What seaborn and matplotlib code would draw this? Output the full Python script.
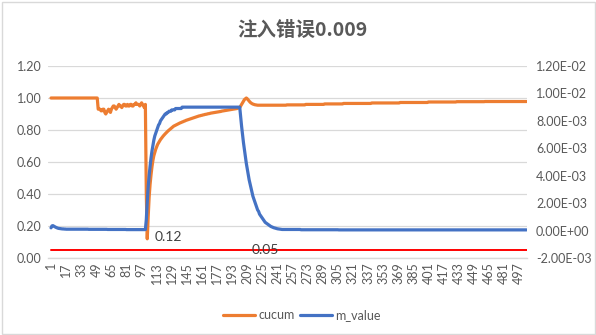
import matplotlib
matplotlib.use("Agg")
import matplotlib.pyplot as plt
import numpy as np
import pandas as pd
import seaborn as sns
from matplotlib.ticker import FuncFormatter
from matplotlib.lines import Line2D
from matplotlib.patches import Rectangle

# ---- data ----
title_text = "注入错误0.009"
series_names = ["cucum", "m_value"]

cucum = (
    [1.00] * 50
    + [0.93, 0.93, 0.93, 0.92, 0.92, 0.93, 0.93, 0.91, 0.90, 0.91,
       0.92, 0.93, 0.92, 0.91, 0.93, 0.94, 0.95, 0.95, 0.94, 0.93,
       0.94, 0.95, 0.96, 0.95, 0.95, 0.94, 0.95, 0.96, 0.96, 0.95,
       0.95, 0.96, 0.95, 0.95, 0.96, 0.96, 0.95, 0.95, 0.96, 0.96,
       0.97, 0.96, 0.96, 0.96, 0.95, 0.96, 0.97, 0.96, 0.95, 0.94,
       0.96]
    + [0.40, 0.12, 0.26, 0.38, 0.46, 0.52, 0.57, 0.61, 0.64, 0.66,
       0.68, 0.695, 0.71, 0.72, 0.73, 0.74, 0.748, 0.756, 0.763, 0.770,
       0.776, 0.782, 0.788, 0.794, 0.799, 0.804, 0.809, 0.814, 0.819]
    + [0.824, 0.827, 0.830, 0.833, 0.836, 0.839, 0.842, 0.845, 0.847, 0.850,
       0.852, 0.855, 0.857, 0.860, 0.862]
    + [0.864, 0.866, 0.868, 0.870, 0.872, 0.874, 0.876, 0.878, 0.880, 0.882,
       0.884, 0.886, 0.888, 0.889, 0.891, 0.892, 0.894]
    + [0.895, 0.897, 0.898, 0.899, 0.901, 0.902, 0.903, 0.905, 0.906, 0.907,
       0.908, 0.909, 0.910, 0.911, 0.912, 0.913, 0.914, 0.915, 0.916, 0.918,
       0.919]
    + [0.920, 0.921, 0.922, 0.923, 0.924, 0.925, 0.926, 0.927, 0.928, 0.929,
       0.930, 0.931, 0.932, 0.933, 0.934, 0.936, 0.938, 0.940]
    + [0.95, 0.96, 0.97, 0.98, 0.99, 0.995, 1.00, 0.995, 0.988, 0.980,
       0.974, 0.969, 0.965, 0.962, 0.960, 0.958, 0.957, 0.956, 0.955]
    + [0.955] * 30
    + [0.957] * 20
    + [0.960] * 20
    + [0.963] * 20
    + [0.966] * 30
    + [0.969] * 30
    + [0.972] * 30
    + [0.975] * 30
    + [0.977] * 30
    + [0.978] * 45
)

m_value = (
    [0.00020, 0.00034, 0.00036, 0.00032, 0.00028, 0.00024, 0.00021, 0.00018,
     0.00016, 0.00015, 0.00014, 0.00013, 0.00012, 0.00012, 0.00011, 0.00011,
     0.00010, 0.00010, 0.00010, 0.00010]
    + [0.00010] * 20
    + [0.00009] * 20
    + [0.00008] * 20
    + [0.00007] * 21
    + [0.0008, 0.0021, 0.0032, 0.0040, 0.0047, 0.0053, 0.0058, 0.0062, 0.0066,
       0.0069, 0.0071, 0.0073, 0.0075, 0.0077, 0.0078, 0.0080, 0.0081, 0.0082,
       0.0083, 0.0084, 0.0085, 0.0085, 0.0086, 0.0086, 0.0087, 0.0087, 0.0087,
       0.0088, 0.0088]
    + [0.0088, 0.0088, 0.0089, 0.0089, 0.0089, 0.0089, 0.0089, 0.0089, 0.0089,
       0.0090, 0.0090, 0.0090, 0.0090, 0.0090, 0.0090]
    + [0.0090] * 15
    + [0.0090] * 41
    + [0.0083, 0.0076, 0.0070, 0.0064, 0.0059, 0.0054, 0.0049, 0.0045, 0.0041,
       0.0037, 0.0034, 0.0031, 0.0028, 0.0025, 0.0023, 0.0021, 0.0019, 0.0017,
       0.0015, 0.0014, 0.0012, 0.0011, 0.0010, 0.0009, 0.0008, 0.0007, 0.0006,
       0.00055, 0.0005, 0.00045, 0.0004, 0.00035, 0.0003, 0.00027, 0.00024,
       0.00021, 0.00019, 0.00017, 0.00015, 0.00013, 0.00012, 0.00011, 0.00010,
       0.00009]
    + [0.00008] * 20
    + [0.00006] * 40
    + [0.00005] * 200
)

threshold = [0.05] * len(cucum)
index = list(range(1, len(cucum) + 1))
x_tick_labels = list(range(1, 498, 16))
left_ticks = [0.0, 0.2, 0.4, 0.6, 0.8, 1.0, 1.2]
right_ticks = [-0.002, 0.0, 0.002, 0.004, 0.006, 0.008, 0.010, 0.012]

# labelled points
min_label_idx = 103       # cucum minimum, 0.12
threshold_label_idx = 206

# ---- styling ----
ORANGE = "#ED7D31"
BLUE = "#4472C4"
RED = "#FF0000"
GRID = "#D9D9D9"
TICK_TXT = "#595959"
LABEL_TXT = "#404040"

sns.set_theme(style="white")
plt.rcParams["font.family"] = ["Lato", "Noto Sans CJK SC", "DejaVu Sans"]

df = pd.DataFrame({"idx": index, "cucum": cucum, "m_value": m_value,
                   "threshold": threshold})

W, H = 596, 335
fig = plt.figure(figsize=(W / 100, H / 100), dpi=100)
ax = fig.add_axes([48 / W, 77 / H, 479 / W, 192 / H])

sns.lineplot(data=df, x="idx", y="cucum", ax=ax, color=ORANGE, lw=2.3,
             legend=False, zorder=3)
sns.lineplot(data=df, x="idx", y="threshold", ax=ax, color=RED, lw=1.4,
             legend=False, zorder=2)

ax2 = ax.twinx()
sns.lineplot(data=df, x="idx", y="m_value", ax=ax2, color=BLUE, lw=2.3,
             legend=False, zorder=3)

# primary axis
ax.set_xlim(-2.2, 505.5)
ax.set_ylim(0, 1.2)
ax.set_yticks(left_ticks)
ax.yaxis.set_major_formatter(FuncFormatter(lambda v, p: f"{v:.2f}"))
ax.set_xticks(x_tick_labels)
ax.set_xticklabels([str(v) for v in x_tick_labels], rotation=90)
ax.grid(axis="y", color=GRID, lw=0.9)
ax.grid(axis="x", visible=False)
ax.set_axisbelow(True)
for side in ["top", "left", "right"]:
    ax.spines[side].set_visible(False)
ax.spines["bottom"].set_color(GRID)
ax.spines["bottom"].set_linewidth(1.0)
ax.tick_params(axis="y", length=0, pad=4.5, labelsize=9, labelcolor=TICK_TXT)
ax.tick_params(axis="x", length=0, pad=3, labelsize=9, labelcolor=TICK_TXT)
ax.set_xlabel("")
ax.set_ylabel("")

# secondary axis
ax2.set_ylim(-0.002, 0.012)
ax2.set_yticks(right_ticks)
ax2.yaxis.set_major_formatter(FuncFormatter(lambda v, p: f"{v:.2E}"))
ax2.grid(False)
for side in ax2.spines:
    ax2.spines[side].set_visible(False)
ax2.tick_params(axis="y", length=0, pad=6.5, labelsize=9, labelcolor=TICK_TXT)
ax2.set_ylabel("")

# data labels
ax.annotate(f"{cucum[min_label_idx - 1]:.2f}",
            xy=(min_label_idx, cucum[min_label_idx - 1]),
            xytext=(5.4, 1.5), textcoords="offset points",
            ha="left", va="center", fontsize=10, color=LABEL_TXT, zorder=5)
ax.annotate(f"{threshold[threshold_label_idx - 1]:.2f}",
            xy=(threshold_label_idx, threshold[threshold_label_idx - 1]),
            xytext=(5.4, 0), textcoords="offset points",
            ha="left", va="center", fontsize=10, color=LABEL_TXT, zorder=5)

# title
fig.text(302 / W, 1 - 31 / H, title_text, ha="center", va="center",
         fontsize=14, fontweight="bold", color=TICK_TXT,
         family=["Noto Sans CJK SC", "DejaVu Sans"])

# legend
handles = [Line2D([], [], color=ORANGE, lw=2.3),
           Line2D([], [], color=BLUE, lw=2.3)]
leg = fig.legend(handles, series_names, loc="center",
                 bbox_to_anchor=(302 / W, 1 - 315 / H), ncol=2, frameon=False,
                 fontsize=9, handlelength=2.6, handletextpad=0.25,
                 columnspacing=0.4)
for t in leg.get_texts():
    t.set_color(TICK_TXT)

# chart border
fig.add_artist(Rectangle((1.5 / W, 1.5 / H), 1 - 3 / W, 1 - 3 / H,
                         transform=fig.transFigure, fill=False,
                         edgecolor=GRID, lw=1.0))

fig.savefig("out.png", dpi=100)
